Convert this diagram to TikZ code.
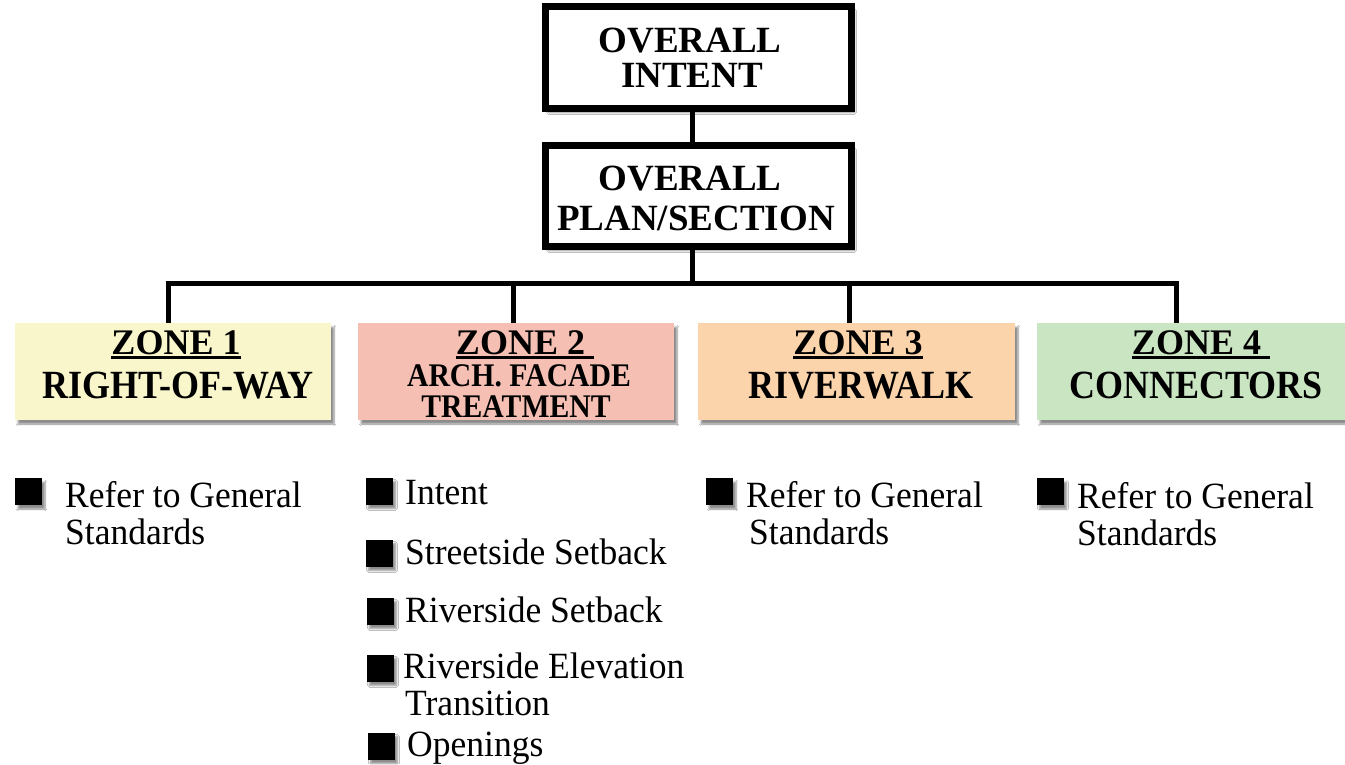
\documentclass[tikz,border=0pt]{standalone}
\usepackage{fontspec}
\setmainfont{Liberation Serif}
\newfontfamily\condbold[FakeStretch=0.9]{Liberation Serif Bold}
\newfontfamily\condreg[FakeStretch=0.96]{Liberation Serif}
\usetikzlibrary{shadows.blur,calc}
\newcommand\zul[1]{\setbox0\hbox{#1}\rlap{\raisebox{-5pt}{\rule{\wd0}{3pt}}}\box0}
\definecolor{zoneA}{HTML}{F8F6CA}
\definecolor{zoneB}{HTML}{F5BFB3}
\definecolor{zoneC}{HTML}{FBD4AB}
\definecolor{zoneD}{HTML}{CAE5C2}
\begin{document}
\begin{tikzpicture}[x=1pt,y=-1pt,
  sh/.style={blur shadow={shadow xshift=3pt,shadow yshift=-4pt,shadow blur steps=6,shadow opacity=45}},
  topbox/.style={draw=black, line width=7pt, fill=white, minimum width=306pt, inner sep=0pt, sh},
  toptext/.style={anchor=base, inner sep=0pt, font=\bfseries\fontsize{37}{39}\selectfont},
  zonebox/.style={fill=#1, minimum height=97pt, inner sep=0pt, sh},
  zonetext/.style={anchor=base, inner sep=0pt, font=\bfseries\fontsize{36}{38}\selectfont},
  zonename/.style={anchor=base, inner sep=0pt, font=\condbold\fontsize{40}{42}\selectfont},
  subtext/.style={anchor=base, inner sep=0pt, font=\condbold\fontsize{33}{34}\selectfont},
  link/.style={line width=5pt},
  bul/.style={fill=black, minimum size=27pt, inner sep=0pt, sh},
  item/.style={anchor=base west, inner sep=0pt, font=\condreg\fontsize{37}{38}\selectfont},
]
\useasboundingbox (0,0) rectangle (1345,764);
\fill[white] (0,0) rectangle (1345,764);

% top boxes
\node[topbox, minimum height=102pt] (b1) at (698.5,57.5) {};
\node[topbox, minimum height=101pt] (b2) at (698.5,196) {};
\node[toptext] (t1a) at (690,52) {OVERALL};
\node[toptext] (t1b) at (692,87) {INTENT};
\node[toptext] (t2a) at (690,190) {OVERALL};
\node[toptext] (t2b) at (696,230) {PLAN/SECTION};

% zone boxes
\node[zonebox=zoneA, minimum width=316pt] (z1) at (173,371.5) {};
\node[zonebox=zoneB, minimum width=316pt] (z2) at (516,371.5) {};
\node[zonebox=zoneC, minimum width=317pt] (z3) at (856.5,371.5) {};
\node[zonebox=zoneD, minimum width=308pt] (z4) at (1191,371.5) {};

\node[zonetext] (z1a) at (176,354) {\zul{ZONE 1}};
\node[zonename] (z1b) at (178,398) {RIGHT-OF-WAY};
\node[zonetext] (z2a) at (525,354) {\zul{ZONE 2\ }};
\node[subtext] (z2b) at (519,386) {ARCH. FACADE};
\node[subtext] (z2c) at (516,417) {TREATMENT};
\node[zonetext] (z3a) at (858,354) {\zul{ZONE 3}};
\node[zonename] (z3b) at (861,398) {RIVERWALK};
\node[zonetext] (z4a) at (1201,354) {\zul{ZONE 4\ }};
\node[zonename] (z4b) at (1196,398) {CONNECTORS};

% connectors
\coordinate (h) at (692,283);
\coordinate (d1) at (168,283);
\coordinate (d2) at (513,283);
\coordinate (d3) at (849,283);
\coordinate (d4) at (1176,283);
\draw[link] (b1.south -| h) -- (b2.north -| h);
\draw[link] (b2.south -| h) -- (h);
\draw[link] ($(d1)+(-2.5,0)$) -- ($(d4)+(2.5,0)$);
\draw[link] (d1) -- (z1.north -| d1);
\draw[link] (d2) -- (z2.north -| d2);
\draw[link] (d3) -- (z3.north -| d3);
\draw[link] (d4) -- (z4.north -| d4);

% bullets zone 1
\node[bul] (p1) at (28.5,491.5) {};
\node[item] (p1a) at (65,507) {Refer to General};
\node[item] (p1b) at (65,544) {Standards};
% bullets zone 2
\node[bul] (q1) at (379,491) {};
\node[item] (q1a) at (405,504) {Intent};
\node[bul] (q2) at (379,553) {};
\node[item] (q2a) at (405,564) {Streetside Setback};
\node[bul] (q3) at (380,611) {};
\node[item] (q3a) at (405,622) {Riverside Setback};
\node[bul] (q4) at (380,668) {};
\node[item] (q4a) at (403,678) {Riverside Elevation};
\node[item] (q4b) at (405,715) {Transition};
\node[bul] (q5) at (381,746) {};
\node[item] (q5a) at (407,756) {Openings};
% bullets zone 3
\node[bul] (r1) at (719.5,491.5) {};
\node[item] (r1a) at (746,507) {Refer to General};
\node[item] (r1b) at (749,544) {Standards};
% bullets zone 4
\node[bul] (s1) at (1050,491.5) {};
\node[item] (s1a) at (1077,508) {Refer to General};
\node[item] (s1b) at (1077,545) {Standards};
\end{tikzpicture}
\end{document}
